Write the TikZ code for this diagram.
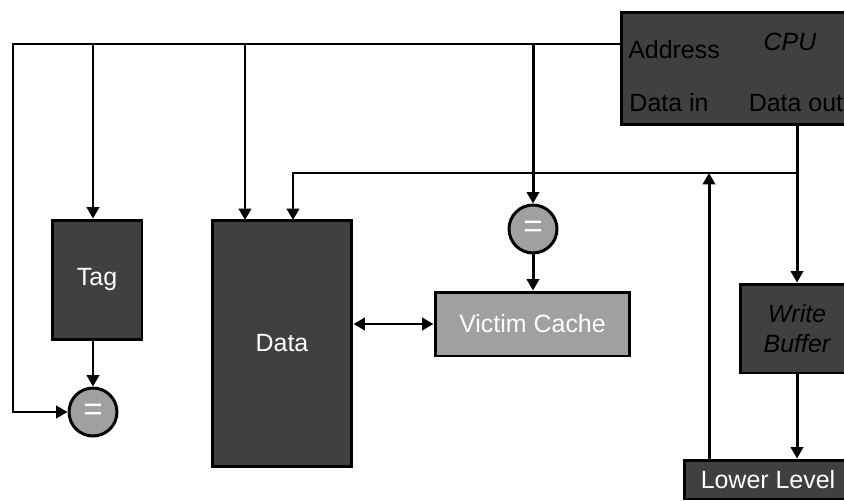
\documentclass[tikz,border=0pt]{standalone}
\usepackage{fontspec}
\setmainfont{Liberation Sans}
\usetikzlibrary{arrows.meta,calc}
\definecolor{boxdark}{HTML}{404040}
\definecolor{boxlight}{HTML}{A0A0A0}

\begin{document}
\begin{tikzpicture}[x=0.02cm,y=-0.02cm]
	\useasboundingbox (0,0) rectangle (844,500);
\tikzset{BlockStyle/.style =
		{shape = rectangle,
		fill = boxdark,
		draw = black,
		line width = 1.7pt,
		inner sep = 0pt,
		text = white,
		font = \fontsize{14.2}{16.5}\selectfont},
	LightStyle/.style = {BlockStyle, fill = boxlight},
	CompStyle/.style =
		{shape = circle,
		fill = boxlight,
		draw = black,
		line width = 1.7pt,
		minimum size = 0.96cm,
		inner sep = 0pt,
		text = white,
		font = \fontsize{19}{20}\selectfont},
	PortStyle/.style = {text = black, inner sep = 0pt,
		font = \fontsize{14.2}{16.5}\selectfont},
	Wire/.style = {line width = 1.7pt, -{Triangle[length=6.5pt,width=7pt]}},
	Bus/.style = {line width = 1.7pt}}

	% blocks
	\node[BlockStyle, minimum width=4.5cm, minimum height=2.26cm] (CPU) at (733.5,68.5) {};
	\node[PortStyle] (Address) at (674,50) {Address};
	\node[PortStyle, font=\fontsize{14.2}{16.5}\selectfont\itshape] (CPUname) at (790,42) {CPU};
	\node[PortStyle] (DataInLbl) at (669,103) {Data in};
	\node[PortStyle] (DataOutLbl) at (796,103) {Data out};

	\node[BlockStyle, minimum width=1.8cm, minimum height=2.4cm] (Tag) at (97,280) {Tag};
	\node[BlockStyle, minimum width=2.8cm, minimum height=4.94cm] (Data) at (282,343.5) {Data};
	\node[LightStyle, minimum width=3.9cm, minimum height=1.28cm] (Victim) at (532.5,324) {Victim Cache};
	\node[BlockStyle, minimum width=2.28cm, minimum height=1.78cm, text=black,
		align=center, font=\fontsize{14.2}{17}\selectfont\itshape] (WriteBuf) at (797,328.5) {Write\\Buffer};
	\node[BlockStyle, minimum width=3.36cm, minimum height=0.78cm] (Lower) at (768,479.5) {Lower Level};

	\node[CompStyle] (EqTag) at (93,412) {=};
	\node[CompStyle] (EqVictim) at (533,229) {=};

	% ports and bends
	\coordinate (AddrPort) at (621,44);
	\coordinate (LeftBus) at (13,412);
	\coordinate (DataBus) at (797,173);
	\coordinate (LowerOut) at (709,460);
	\coordinate (DataAddrIn) at (245,220);
	\coordinate (DataIn) at (293,220);

	% address
	\draw[Wire] (AddrPort) -| (LeftBus) -- (EqTag);
	\draw[Wire] (AddrPort -| EqTag.north) -- (Tag.north -| EqTag.north);
	\draw[Wire] (AddrPort -| DataAddrIn) -- (DataAddrIn);
	\draw[Wire] (AddrPort -| EqVictim.north) -- (EqVictim.north);
	\draw[Wire] (Tag.south -| EqTag.north) -- (EqTag.north);
	\draw[Wire] (EqVictim.south) -- (Victim.north -| EqVictim.south);
	\draw[line width=1.7pt, {Triangle[length=6.5pt,width=7pt]}-{Triangle[length=6.5pt,width=7pt]}]
		(Data.east |- Victim.west) -- (Victim.west);

	% data out
	\draw[Wire] (CPU.south -| DataBus) -- (WriteBuf.north -| DataBus);
	\draw[Wire] (DataBus) -| (DataIn);
	\draw[Wire] (LowerOut) -- (LowerOut |- DataBus);
	\draw[Wire] (WriteBuf.south -| DataBus) -- (Lower.north -| DataBus);
%	\draw[Bus] (CPU.south) -- (Data.north);
\end{tikzpicture}
\end{document}
